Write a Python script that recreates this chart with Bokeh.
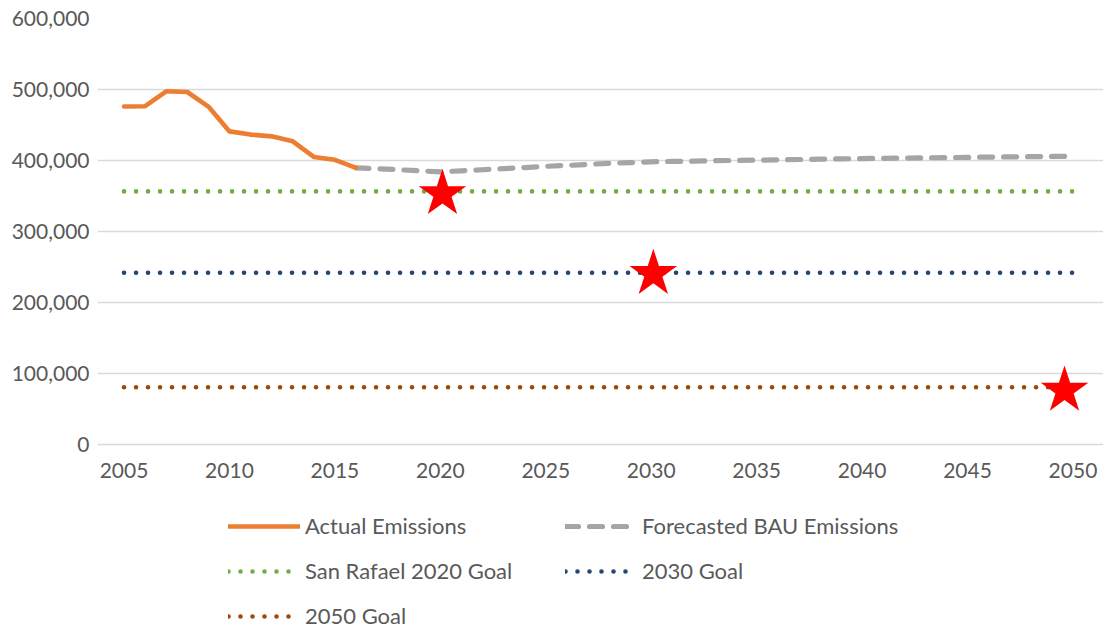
from bokeh.plotting import figure
from bokeh.models import (FixedTicker, NumeralTickFormatter, Range1d, Legend, LegendItem)
from bokeh.embed import file_html
from bokeh.resources import INLINE

# ---- data ----
actual_years = [2005, 2006, 2007, 2008, 2009, 2010, 2011, 2012, 2013, 2014, 2015, 2016]
actual_emissions = [476000, 476500, 497500, 496500, 476000, 441000, 436500, 434000,
                    427000, 405000, 401000, 389500]

forecast_years = list(range(2016, 2051))
forecast_emissions = [389500, 388500, 387000, 385500, 384000, 385500, 387000, 388500,
                      390000, 391800, 393000, 394500, 396000, 397000, 398200, 398700,
                      399200, 399700, 400100, 400500, 401000, 401400, 401900, 402300,
                      402700, 403100, 403400, 403800, 404100, 404400, 404800, 405100,
                      405400, 405700, 406000]

goal_span = [2005, 2050]
goal_2020 = 356500
goal_2030 = 242000
goal_2050 = 80700

star_years = [2020.1, 2030.1, 2049.6]
star_values = [353000, 240500, 76000]

x_ticks = [2005, 2010, 2015, 2020, 2025, 2030, 2035, 2040, 2045, 2050]
y_ticks = [0, 100000, 200000, 300000, 400000, 500000, 600000]

FONT = "Lato"
TXT = "#595959"

# layout (pixels): plot area 113..1083 wide, 600,000 at y=18 and 0 at y=444;
# the frame is widened a little to the left (for the first x label) and
# extended down to the bottom so the legend can sit inside it.
W, H = 1103, 629
AREA_LEFT, TOP = 113, 18
PAD_LEFT = 16
LEFT = AREA_LEFT - PAD_LEFT
PLOT_W, PLOT_H = 970, 426
x0, x1 = 2004.5, 2050.5
ymax = 600000
ppx_x = PLOT_W / (x1 - x0)
ppy = PLOT_H / ymax
x_start = x0 - PAD_LEFT / ppx_x
x_end = x0 + (W - AREA_LEFT) / ppx_x
y_start = -(H - TOP - PLOT_H) / ppy

p = figure(width=W, height=H, output_backend="svg", toolbar_location=None,
           x_range=Range1d(x_start, x_end), y_range=Range1d(y_start, ymax),
           min_border_left=LEFT, min_border_right=0, min_border_top=TOP,
           min_border_bottom=0)
p.outline_line_color = None
p.background_fill_color = "white"

# axes
p.xaxis.ticker = FixedTicker(ticks=x_ticks)
p.xaxis.fixed_location = 0
p.yaxis.ticker = FixedTicker(ticks=y_ticks)
p.yaxis.formatter = NumeralTickFormatter(format="0,0")
for ax in (p.xaxis[0], p.yaxis[0]):
    ax.axis_line_color = None
    ax.major_tick_line_color = None
    ax.minor_tick_line_color = None
    ax.major_label_text_font = FONT
    ax.major_label_text_font_size = "21px"
    ax.major_label_text_color = TXT
p.yaxis.major_label_standoff = 2
p.xaxis.major_label_standoff = 12

p.xgrid.grid_line_color = None
p.ygrid.grid_line_color = "#D9D9D9"
p.ygrid.grid_line_width = 1.3
p.ygrid.bounds = (x0, x1)

# goal lines
g1 = p.line(goal_span, [goal_2020, goal_2020], line_color="#70AD47", line_width=4.6,
            line_dash="0 12", line_cap="round")
g2 = p.line(goal_span, [goal_2030, goal_2030], line_color="#264478", line_width=4.6,
            line_dash="0 12", line_cap="round")
g3 = p.line(goal_span, [goal_2050, goal_2050], line_color="#9E480E", line_width=4.6,
            line_dash="0 12", line_cap="round")

# emission lines
fc = p.line(forecast_years, forecast_emissions, line_color="#A5A5A5", line_width=5.2,
            line_dash="13 11", line_cap="round", line_join="round")
ac = p.line(actual_years, actual_emissions, line_color="#ED7D31", line_width=4.6,
            line_cap="round", line_join="round")

# stars
p.scatter(star_years, star_values, marker="star", size=50, fill_color="#FF0000",
          line_color=None)

legend = Legend(items=[
    LegendItem(label="Actual Emissions", renderers=[ac]),
    LegendItem(label="Forecasted BAU Emissions", renderers=[fc]),
    LegendItem(label="San Rafael 2020 Goal", renderers=[g1]),
    LegendItem(label="2030 Goal", renderers=[g2]),
    LegendItem(label="2050 Goal", renderers=[g3]),
], orientation="horizontal", ncols=2, location=(115 + PAD_LEFT, 0))
legend.label_text_font = FONT
legend.label_text_font_size = "22px"
legend.label_text_color = TXT
legend.glyph_width = 72
legend.glyph_height = 20
legend.label_height = 20
legend.label_width = 242
legend.label_standoff = 5
legend.spacing = 18
legend.padding = 0
legend.margin = 0
legend.background_fill_alpha = 0
legend.border_line_alpha = 0
p.add_layout(legend, "center")

open("out.html", "w").write(file_html(p, INLINE))
